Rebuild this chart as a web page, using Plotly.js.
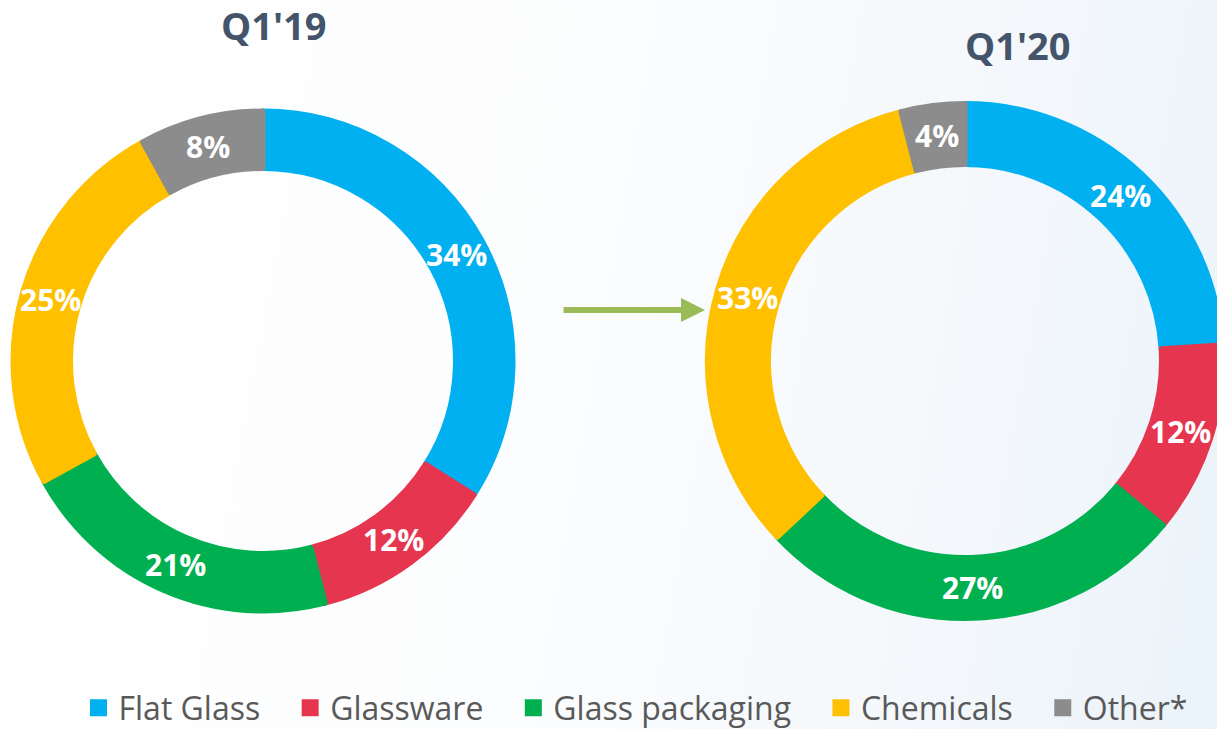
<!DOCTYPE html>
<html>
<head>
<meta charset="utf-8">
<script src="https://cdn.plot.ly/plotly-3.0.1.min.js"></script>
<style>
  html, body { margin: 0; padding: 0; overflow: hidden; width: 1217px; height: 729px;
    background: linear-gradient(100deg, #ffffff 0%, #fcfdfe 45%, #f3f7fb 80%, #eaf3fa 100%); }
  #chart { width: 1240px; height: 729px; }
</style>
</head>
<body>
<div id="chart"></div>
<script>
// ---- data ----
const categories = ["Flat Glass", "Glassware", "Glass packaging", "Chemicals", "Other*"];
const q119Values = [34, 12, 21, 25, 8];
const q120Values = [24, 12, 27, 33, 4];
const periodTitles = ["Q1'19", "Q1'20"];
const sliceColors = ["#00B0F0", "#E6364F", "#00B050", "#FFC000", "#8C8C8C"];

// ---- page geometry ----
const W = 1240, H = 729;
const px = v => v / W;
const py = v => (H - v) / H;
const LINE_W = 5;
// legend entries get a little trailing padding so spacing matches the original
const legendLabels = categories.map(c => c + '\u00a0\u00a0\u00a0');

const donuts = [
  { values: q119Values, cx: 263, cy: 361, r: 250, hole: 0.77 },
  { values: q120Values, cx: 965, cy: 361, r: 257.5, hole: 0.763 }
];

function donutTrace(d) {
  return {
    type: 'pie',
    labels: legendLabels,
    values: d.values,
    sort: false,
    direction: 'clockwise',
    rotation: 0,
    hole: d.hole,
    domain: { x: [px(d.cx - d.r), px(d.cx + d.r)], y: [py(d.cy + d.r), py(d.cy - d.r)] },
    marker: { colors: sliceColors, line: { color: sliceColors, width: LINE_W } },
    textinfo: 'none',
    hoverinfo: 'label+value',
    showlegend: true
  };
}

// value labels at the middle of each ring segment (derived from the values)
function donutLabels(d) {
  const total = d.values.reduce((a, b) => a + b, 0);
  const rOut = d.r + LINE_W / 2;
  const rIn = d.r * d.hole - LINE_W / 2;
  const rm = (rOut + rIn) / 2;
  let cum = 0;
  return d.values.map(v => {
    const mid = (cum + v / 2) / total * 2 * Math.PI;
    cum += v;
    return {
      text: v + '%', xref: 'paper', yref: 'paper',
      x: px(d.cx + rm * Math.sin(mid)), y: py(d.cy - rm * Math.cos(mid)),
      xanchor: 'center', yanchor: 'middle', showarrow: false,
      font: { family: 'Open Sans', size: 30, color: '#ffffff', weight: 'bold' }
    };
  });
}

const data = donuts.map(donutTrace);

const titleFont = { family: 'Open Sans', size: 38, color: '#44546A', weight: 'bold' };

const layout = {
  width: W,
  height: H,
  margin: { l: 0, r: 0, t: 0, b: 0, autoexpand: false },
  paper_bgcolor: 'rgba(0,0,0,0)',
  plot_bgcolor: 'rgba(0,0,0,0)',
  font: { family: 'Open Sans', color: '#595959' },
  showlegend: true,
  legend: {
    orientation: 'h',
    x: px(648), xanchor: 'center',
    y: py(708), yanchor: 'middle',
    font: { family: 'Open Sans', size: 32, color: '#595959' },
    bgcolor: 'rgba(0,0,0,0)'
  },
  annotations: [
    { text: periodTitles[0], xref: 'paper', yref: 'paper', x: px(274), y: py(25),
      xanchor: 'center', yanchor: 'middle', showarrow: false, font: titleFont },
    { text: periodTitles[1], xref: 'paper', yref: 'paper', x: px(1018), y: py(45),
      xanchor: 'center', yanchor: 'middle', showarrow: false, font: titleFont },
    { text: '', xref: 'paper', yref: 'paper', x: px(705), y: py(310),
      ax: -143, ay: 0, showarrow: true, arrowhead: 2, arrowsize: 0.8,
      arrowwidth: 6, arrowcolor: '#9BBB59' }
  ].concat(donutLabels(donuts[0]), donutLabels(donuts[1]))
};

Plotly.newPlot('chart', data, layout, { displayModeBar: false, staticPlot: true });
</script>
</body>
</html>
